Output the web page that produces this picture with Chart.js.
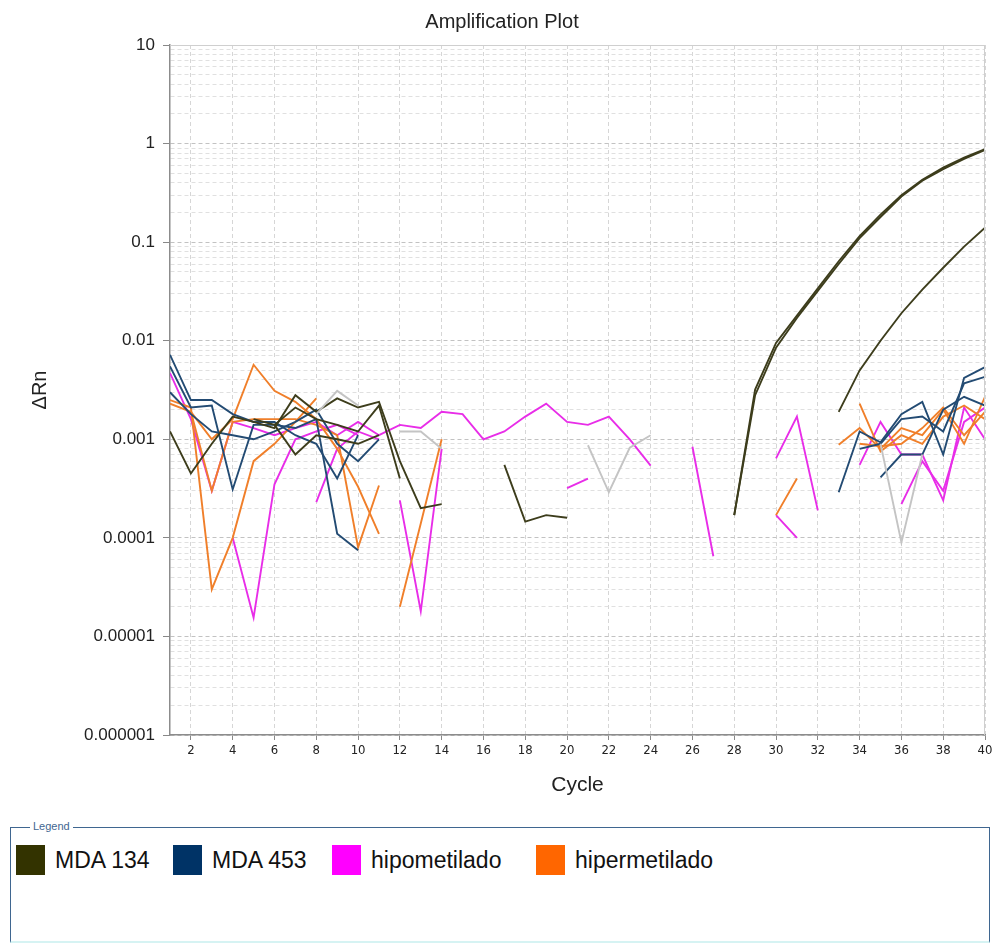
<!DOCTYPE html>
<html><head><meta charset="utf-8">
<script src="https://cdn.jsdelivr.net/npm/chart.js@4"></script>
<style>
html,body{margin:0;padding:0;background:#fff;width:997px;height:943px;overflow:hidden;font-family:'Liberation Sans',Arial,sans-serif;}
#wrap{position:absolute;left:0;top:0;width:997px;height:815px;}
#legendBox{position:absolute;left:10px;top:827px;width:978px;height:113px;border:1px solid #3f6690;border-bottom:2px solid #d6f3f3;}
#legendTitle{position:absolute;left:19px;top:-8px;background:#fff;padding:0 3px;font-size:11px;line-height:13px;color:#3f6690;font-family:"Liberation Sans Narrow","Liberation Sans",sans-serif;}
#legendItems{position:absolute;left:0;top:17px;width:970px;height:32px;}
.item{position:absolute;top:0;display:flex;align-items:center;height:30px;}
.sw{width:29px;height:30px;margin-right:10px;}
.lbl{font-size:23px;color:#111;white-space:nowrap;}
</style></head><body>
<div id="wrap"><canvas id="c" width="997" height="815"></canvas></div>
<div id="legendBox"><span id="legendTitle">Legend</span><div id="legendItems"></div></div>
<script>
const _ = null;
const titleText = 'Amplification Plot';
const xTitle = 'Cycle';
const yTitle = '\u0394Rn';
const cycles = [1,2,3,4,5,6,7,8,9,10,11,12,13,14,15,16,17,18,19,20,21,22,23,24,25,26,27,28,29,30,31,32,33,34,35,36,37,38,39,40];
const xTickValues = [2,4,6,8,10,12,14,16,18,20,22,24,26,28,30,32,34,36,38,40];
const yDecades = [0.000001,0.00001,0.0001,0.001,0.01,0.1,1,10];
const yTickLabels = ['0.000001','0.00001','0.0001','0.001','0.01','0.1','1','10'];

const legendNames = ['MDA 134','MDA 453','hipometilado','hipermetilado'];
const legendColors = ['#333300','#003366','#ff00ff','#ff6600'];
const lineColors = ['#3d3d1c','#234b73','#e82de8','#f07f2a'];
const grayColor = '#c4c4c4';

// MDA 134
const mda134_1 = [0.0012,0.00045,0.0009,0.0017,0.0015,0.0013,0.0028,0.0019,0.0026,0.0021,
  0.0024,0.0006,0.0002,0.00022,_,_,0.00055,0.000146,0.00017,0.00016,
  _,_,_,_,_,_,_,0.00017,0.0028,0.0085,
  0.017,0.032,0.06,0.11,0.18,0.29,0.42,0.55,0.70,0.86];
const mda134_2 = [_,_,_,_,0.0016,0.0014,0.0007,0.0011,0.0010,0.0009,
  0.0011,_,_,_,_,_,_,_,_,_,
  _,_,_,_,_,_,_,0.00017,0.0032,0.0095,
  0.018,0.034,0.064,0.115,0.19,0.30,0.43,0.57,0.72,0.88];
const mda134_3 = [_,_,_,_,_,0.0014,0.0021,0.0016,0.0014,0.0012,
  0.0022,0.0004,_,_,_,_,_,_,_,_,
  _,_,_,_,_,_,_,_,_,_,
  _,_,0.0019,0.005,0.01,0.019,0.033,0.055,0.09,0.14];
// MDA 453
const mda453_1 = [0.0072,0.0025,0.0025,0.0018,0.0015,0.0015,0.0011,0.0009,0.0004,0.0011,
  _,_,_,_,_,_,_,_,_,_,
  _,_,_,_,_,_,_,_,_,_,
  _,_,0.00029,0.0012,0.00093,0.0018,0.0024,0.0007,0.0042,0.0054];
const mda453_2 = [0.0055,0.0021,0.0022,0.00031,0.0014,0.0014,0.0013,0.0016,0.00011,0.000075,
  _,_,_,_,_,_,_,_,_,_,
  _,_,_,_,_,_,_,_,_,_,
  _,_,_,0.0008,0.0009,0.0016,0.0017,0.0012,0.0037,0.0043];
const mda453_3 = [0.003,0.0018,0.0012,0.0011,0.001,0.0012,0.0015,0.0020,0.0009,0.0006,
  0.001,_,_,_,_,_,_,_,_,_,
  _,_,_,_,_,_,_,_,_,_,
  _,_,_,_,0.00041,0.0007,0.0007,0.002,0.0027,0.0022];
// hipometilado
const hipo_1 = [0.0047,0.0016,0.0003,0.0015,0.0013,0.0011,0.0013,0.0015,0.0011,0.0015,
  0.0011,0.0014,0.0013,0.0019,0.0018,0.001,0.0012,0.0017,0.0023,0.0015,
  0.0014,0.0017,0.001,0.00054,_,_,_,_,_,_,
  _,_,_,_,_,_,_,_,_,_];
const hipo_2 = [_,_,_,0.0001,0.0000155,0.00035,0.001,0.0012,0.0014,0.0011,
  _,_,_,_,_,_,_,_,_,_,
  _,_,_,_,_,_,_,_,_,_,
  _,_,_,_,_,_,_,_,_,_];
const hipo_3 = [_,_,_,_,_,_,_,0.00023,0.0008,0.0012,
  0.001,_,_,_,_,_,_,_,_,_,
  _,_,_,_,_,_,_,_,_,_,
  _,_,_,_,_,_,_,_,_,_];
const hipo_4 = [_,_,_,_,_,_,_,_,_,_,
  _,0.00024,0.000018,0.0008,_,_,_,_,_,0.00032,
  0.0004,_,_,_,_,0.00084,0.000065,_,_,_,
  _,_,_,_,_,_,_,_,_,_];
const hipo_5 = [_,_,_,_,_,_,_,_,_,_,
  _,_,_,_,_,_,_,_,_,_,
  _,_,_,_,_,_,_,_,_,0.00064,
  0.0017,0.00019,_,0.00055,0.0015,0.0007,0.0007,0.00024,0.0021,0.001];
const hipo_6 = [_,_,_,_,_,_,_,_,_,_,
  _,_,_,_,_,_,_,_,_,_,
  _,_,_,_,_,_,_,_,_,0.00017,
  0.0001,_,_,_,_,0.00022,0.0006,0.0003,0.0015,0.0021];
// hipermetilado
const hiper_1 = [0.0025,0.0021,0.00003,0.0001,0.0006,0.0009,0.0015,0.0026,_,_,
  _,_,_,_,_,_,_,_,_,_,
  _,_,_,_,_,_,_,_,_,_,
  _,_,_,_,_,_,_,_,_,_];
const hiper_2 = [0.0023,0.0019,0.001,0.0016,0.0057,0.0031,0.0024,0.0016,0.0008,0.00033,
  0.00011,_,_,_,_,_,_,_,_,_,
  _,_,_,_,_,_,_,_,_,_,
  _,_,_,_,_,_,_,_,_,_];
const hiper_3 = [_,0.0019,0.0003,0.0015,0.0016,0.0016,0.0016,0.0014,0.0011,0.00008,
  0.00034,_,_,_,_,_,_,_,_,_,
  _,_,_,_,_,_,_,_,_,_,
  _,_,_,_,_,_,_,_,_,_];
const hiper_4 = [_,_,_,_,_,_,_,_,_,_,
  _,0.00002,0.00014,0.001,_,_,_,_,_,_,
  _,_,_,_,_,_,_,_,_,_,
  _,_,0.00088,0.0013,0.0008,0.0013,0.0011,0.002,0.0009,0.0027];
const hiper_5 = [_,_,_,_,_,_,_,_,_,_,
  _,_,_,_,_,_,_,_,_,_,
  _,_,_,_,_,_,_,_,_,0.00017,
  0.0004,_,_,0.0023,0.00075,0.0011,0.0009,0.0017,0.0022,0.0016];
const hiper_6 = [_,_,_,_,_,_,_,_,_,_,
  _,_,_,_,_,_,_,_,_,_,
  _,_,_,_,_,_,_,_,_,_,
  _,_,_,0.0009,0.00085,0.0009,0.0013,0.0021,0.0011,0.0019];
// undetermined wells (gray)
const gray_1 = [_,_,_,_,_,_,_,0.0018,0.0031,0.0022,
  _,0.0012,0.0012,0.0008,_,_,_,_,_,_,
  0.00087,0.00029,0.00082,0.0011,_,_,_,_,_,_,
  _,_,_,_,0.0009,0.00009,0.0007,_,_,_];

const groups = [
  {color: grayColor, series: [gray_1]},
  {color: lineColors[0], series: [mda134_1, mda134_2, mda134_3]},
  {color: lineColors[1], series: [mda453_1, mda453_2, mda453_3]},
  {color: lineColors[3], series: [hiper_1, hiper_2, hiper_3, hiper_4, hiper_5, hiper_6]},
  {color: lineColors[2], series: [hipo_1, hipo_2, hipo_3, hipo_4, hipo_5, hipo_6]}
];

const datasets = [];
groups.forEach(g => g.series.forEach(s => datasets.push({
  data: s, borderColor: g.color, borderWidth: 1.9, pointRadius: 0,
  tension: 0, spanGaps: false, fill: false
})));

// legend (HTML)
const legendLeft = [5, 162, 321, 525];
const li = document.getElementById('legendItems');
legendNames.forEach((n, i) => {
  const it = document.createElement('div'); it.className = 'item'; it.style.left = legendLeft[i] + 'px';
  const sw = document.createElement('div'); sw.className = 'sw'; sw.style.background = legendColors[i];
  const lb = document.createElement('span'); lb.className = 'lbl'; lb.textContent = n;
  it.appendChild(sw); it.appendChild(lb); li.appendChild(it);
});

const isDecade = v => Math.abs(Math.log10(v) - Math.round(Math.log10(v))) < 1e-6;

const framePlugin = {
  id: 'frame',
  afterDraw(chart) {
    const {ctx, chartArea: a} = chart;
    ctx.save();
    ctx.strokeStyle = '#cfcfcf'; ctx.lineWidth = 1;
    ctx.beginPath();
    ctx.moveTo(a.left, a.top + 0.5); ctx.lineTo(a.right, a.top + 0.5);
    ctx.moveTo(a.right - 0.5, a.top); ctx.lineTo(a.right - 0.5, a.bottom);
    ctx.stroke();
    ctx.fillStyle = '#222';
    ctx.font = '20px "Liberation Sans", Arial, sans-serif';
    ctx.textAlign = 'center'; ctx.textBaseline = 'middle';
    ctx.fillText(titleText, 502, 22);
    ctx.restore();
  }
};

new Chart(document.getElementById('c'), {
  type: 'line',
  data: {labels: cycles, datasets},
  plugins: [framePlugin],
  options: {
    responsive: false, animation: false,
    layout: {padding: {left: 0, right: 12, top: 45, bottom: 10}},
    plugins: {legend: {display: false}, tooltip: {enabled: false}, title: {display: false}},
    scales: {
      x: {
        type: 'linear', min: 1, max: 40,
        afterBuildTicks: s => { s.ticks = xTickValues.map(v => ({value: v})); },
        afterFit: s => { s.height = 70; },
        ticks: {autoSkip: false, maxRotation: 0, padding: 3, color: '#222',
          font: {family: '"Liberation Sans Narrow", "DejaVu Sans Condensed", "Liberation Sans", sans-serif', size: 13}},
        grid: {color: '#d6d6d6', lineWidth: 1, tickLength: 5, tickColor: '#888'},
        border: {display: true, color: '#8c8c8c', width: 1.5, dash: [4, 3]},
        title: {display: true, text: xTitle, color: '#222', padding: {top: 0, bottom: 7},
          font: {family: '"Liberation Sans", Arial, sans-serif', size: 21}}
      },
      y: {
        type: 'logarithmic', min: 0.000001, max: 10,
        afterBuildTicks: s => {
          const t = [];
          for (let d = 0; d < yDecades.length; d++) {
            const base = yDecades[d];
            const kmax = d === yDecades.length - 1 ? 1 : 9;
            for (let k = 1; k <= kmax; k++) t.push({value: base * k});
          }
          s.ticks = t;
        },
        afterFit: s => { s.width = 170; },
        ticks: {autoSkip: false, padding: 8, color: '#222',
          font: {family: '"Liberation Sans", Arial, sans-serif', size: 17},
          callback: v => isDecade(v) ? yTickLabels[Math.round(Math.log10(v)) + 6] : ''},
        grid: {
          color: c => (c.tick && isDecade(c.tick.value)) ? '#c2c2c2' : '#e0e0e0',
          tickColor: c => (c.tick && isDecade(c.tick.value)) ? '#888' : 'rgba(0,0,0,0)',
          tickLength: 7, lineWidth: 1
        },
        border: {display: true, color: '#8c8c8c', width: 1.5, dash: [4, 3]},
        title: {display: true, text: yTitle, color: '#222', padding: {top: 28, bottom: 0},
          font: {family: '"Liberation Sans", Arial, sans-serif', size: 20}}
      }
    }
  }
});
</script>
</body></html>
